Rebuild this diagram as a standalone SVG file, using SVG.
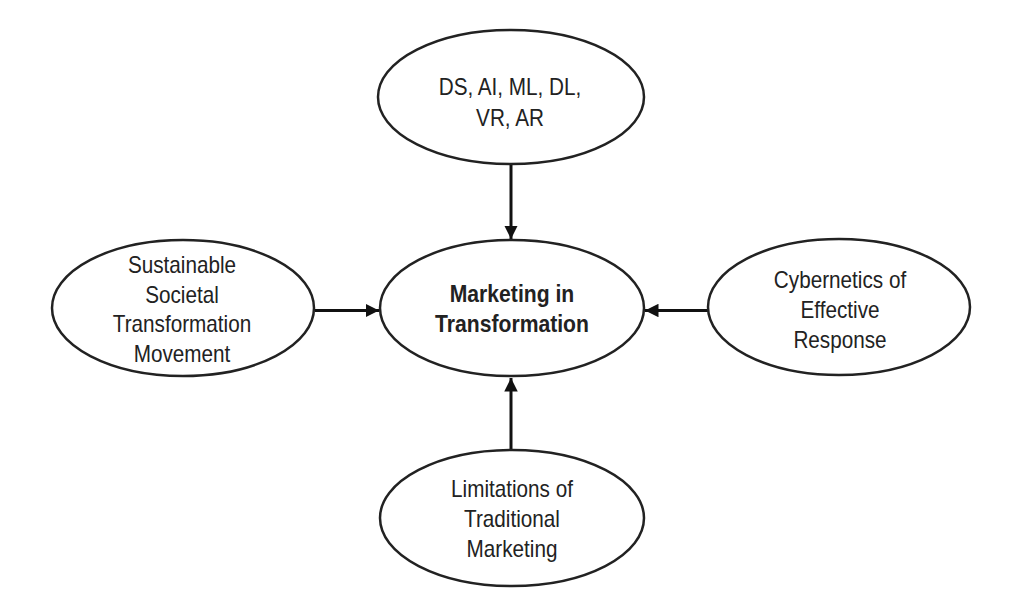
<svg xmlns="http://www.w3.org/2000/svg" width="1019" height="612" viewBox="0 0 1019 612">
<style>
.node ellipse{fill:#fff;stroke:#222;stroke-width:2.5}
.node text{font-family:"Liberation Sans",Arial,sans-serif;font-size:23px;fill:#222;text-anchor:middle}
.node text.b{font-weight:bold}
.conn line{stroke:#111;stroke-width:3;marker-end:url(#ah)}
</style>
<defs>
<marker id="ah" viewBox="0 0 10 10" refX="10" refY="5" markerWidth="4.5" markerHeight="4.5" orient="auto" markerUnits="strokeWidth">
<path d="M0,0 L10,5 L0,10 z" fill="#111"/>
</marker>
</defs>
<rect width="1019" height="612" fill="#fff"/>
<g class="conn">
<line x1="511" y1="165" x2="511" y2="239"/>
<line x1="315" y1="310.5" x2="379" y2="310.5"/>
<line x1="708" y1="310.5" x2="645" y2="310.5"/>
<line x1="511" y1="450" x2="511" y2="378"/>
</g>
<g id="n-top" class="node">
<ellipse cx="511" cy="97" rx="133" ry="67"/>
<text transform="translate(510 95) scale(0.9 1)">DS, AI, ML, DL,</text>
<text transform="translate(510 126) scale(0.9 1)">VR, AR</text>
</g>
<g id="n-center" class="node">
<ellipse cx="512" cy="308" rx="132" ry="68"/>
<text class="b" transform="translate(512 302) scale(0.92 1)">Marketing in</text>
<text class="b" transform="translate(512 332) scale(0.92 1)">Transformation</text>
</g>
<g id="n-left" class="node">
<ellipse cx="183" cy="308" rx="131" ry="68"/>
<text transform="translate(182 273) scale(0.9 1)">Sustainable</text>
<text transform="translate(182 303) scale(0.9 1)">Societal</text>
<text transform="translate(182 332) scale(0.9 1)">Transformation</text>
<text transform="translate(182 362) scale(0.9 1)">Movement</text>
</g>
<g id="n-right" class="node">
<ellipse cx="839" cy="307" rx="131" ry="68"/>
<text transform="translate(840 288) scale(0.9 1)">Cybernetics of</text>
<text transform="translate(840 318) scale(0.9 1)">Effective</text>
<text transform="translate(840 348) scale(0.9 1)">Response</text>
</g>
<g id="n-bottom" class="node">
<ellipse cx="512" cy="518" rx="132" ry="68"/>
<text transform="translate(512 497) scale(0.9 1)">Limitations of</text>
<text transform="translate(512 527) scale(0.9 1)">Traditional</text>
<text transform="translate(512 557) scale(0.9 1)">Marketing</text>
</g>
</svg>
